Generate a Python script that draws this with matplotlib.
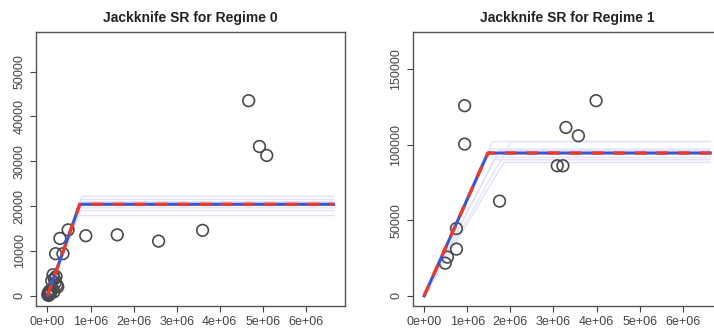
import matplotlib
matplotlib.use("Agg")
import matplotlib.pyplot as plt
import numpy as np

plt.rcParams["font.family"] = ["Liberation Sans", "DejaVu Sans"]

# regime 0 observations (stock, recruits)
r0_x = [4.67e6, 4.92e6, 5.09e6, 3.60e6, 2.58e6, 1.62e6, 0.89e6, 0.48e6, 0.29e6,
        0.36e6, 0.19e6, 0.13e6, 0.20e6, 0.16e6, 0.22e6, 0.10e6, 0.18e6, 0.24e6,
        0.12e6, 0.08e6, 0.15e6, 0.06e6, 0.04e6, 0.03e6, 0.02e6, 0.05e6, 0.01e6,
        0.03e6, 0.07e6, 0.02e6]
r0_y = [43500, 33300, 31300, 14600, 12200, 13600, 13400, 14700, 12800,
        9400, 9400, 4700, 4300, 3800, 2400, 3400, 2900, 2000,
        1600, 1200, 900, 800, 600, 400, 300, 1100, 200,
        100, 500, 700]
# regime 1 observations
r1_x = [0.94e6, 0.94e6, 3.99e6, 3.29e6, 3.58e6, 3.09e6, 3.22e6, 1.75e6,
        0.75e6, 0.75e6, 0.54e6, 0.49e6]
r1_y = [125700, 100300, 129000, 111300, 105800, 86000, 86000, 62600,
        44500, 30900, 25600, 21600]

# fitted hockey-stick: breakpoint stock, plateau recruitment
r0_fit = (0.75e6, 20400)
r1_fit = (1.48e6, 94400)
# jackknife refits (breakpoint, plateau)
r0_jack = [(0.80e6, 22200), (0.78e6, 21500), (0.74e6, 20900), (0.72e6, 19600),
           (0.70e6, 19000), (0.68e6, 17900), (0.85e6, 21000)]
r1_jack = [(1.59e6, 102000), (2.02e6, 102000), (1.55e6, 97000), (1.62e6, 90000),
           (1.85e6, 88200), (1.40e6, 91500), (1.75e6, 96000)]

x_end = 6.64e6
x_ticks = [0, 1e6, 2e6, 3e6, 4e6, 5e6, 6e6]
x_labels = ["0e+00", "1e+06", "2e+06", "3e+06", "4e+06", "5e+06", "6e+06"]


def hockey(bp, plateau):
    return [0, bp, x_end], [0, plateau, plateau]


def panel(ax, xs, ys, fit, jack, title, yticks):
    for bp, pl in jack:
        ax.plot(*hockey(bp, pl), color="#e2e2fa", lw=1.0, zorder=1)
    ax.scatter(xs, ys, s=70, facecolors="none", edgecolors="#4a4a4a",
               linewidths=1.2, zorder=2)
    ax.plot(*hockey(*fit), color="#3a55d8", lw=2.2, zorder=3)
    ax.plot(*hockey(*fit), color="#ee3a2a", lw=2.4, ls=(0, (3.5, 3.0)), zorder=4)
    ymax = 1.3 * max(ys)
    ax.set_xlim(-0.04 * x_end, 1.04 * x_end)
    ax.set_ylim(-0.04 * ymax, 1.04 * ymax)
    ax.set_xticks(x_ticks)
    ax.set_xticklabels(x_labels)
    ax.set_yticks(yticks)
    ax.set_yticklabels([str(v) for v in yticks], rotation=90, va="center")
    ax.tick_params(labelsize=9, colors="#444444", length=4, width=0.8,
                   labelcolor="#444444")
    for s in ax.spines.values():
        s.set_color("#555555")
        s.set_linewidth(1.0)
    ax.set_title(title, fontsize=10, fontweight="bold", color="#222222", pad=7)


fig = plt.figure(figsize=(7.14, 3.36), dpi=100)
ax0 = fig.add_axes([0.0504, 0.0893, 0.4328, 0.8155])
ax1 = fig.add_axes([0.578, 0.0893, 0.4328, 0.8155])
panel(ax0, r0_x, r0_y, r0_fit, r0_jack, "Jackknife SR for Regime 0",
      [0, 10000, 20000, 30000, 40000, 50000])
panel(ax1, r1_x, r1_y, r1_fit, r1_jack, "Jackknife SR for Regime 1",
      [0, 50000, 100000, 150000])
fig.savefig("out.png", dpi=100)
